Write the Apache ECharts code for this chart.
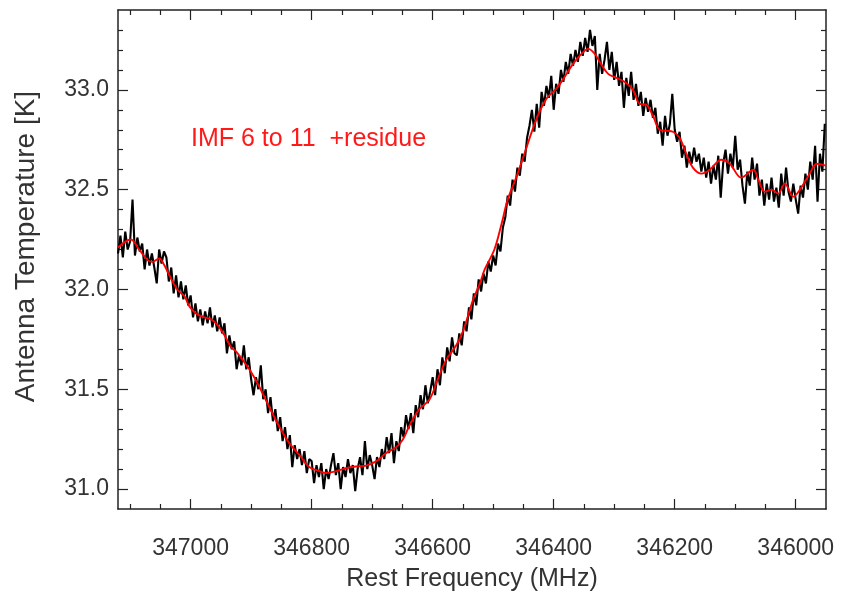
<!DOCTYPE html>
<html>
<head>
<meta charset="utf-8">
<script src="https://cdn.jsdelivr.net/npm/echarts@6/dist/echarts.min.js"></script>
<style>html,body{margin:0;padding:0;background:#fff;}#c{width:841px;height:601px;}</style>
</head>
<body>
<div id="c"></div>
<script>
// Axis ticks
const xMajorTicks = [347000, 346800, 346600, 346400, 346200, 346000];
const xMinorTicks = [347100, 347050, 346950, 346900, 346850, 346750, 346700, 346650, 346550, 346500, 346450, 346350, 346300, 346250, 346150, 346100, 346050];
const yMajorTicks = [31.0, 31.5, 32.0, 32.5, 33.0];
const yMinorTicks = [31.1, 31.2, 31.3, 31.4, 31.6, 31.7, 31.8, 31.9, 32.1, 32.2, 32.3, 32.4, 32.6, 32.7, 32.8, 32.9, 33.1, 33.2, 33.3];

// Observed spectrum (channel grid: start frequency and step in MHz)
const specStart = 347120;
const specStep = -4;
const specTemp = [
32.18, 32.27, 32.16, 32.29, 32.20, 32.24, 32.45, 32.17, 32.26, 32.19,
32.23, 32.10, 32.20, 32.12, 32.18, 32.11, 32.03, 32.20, 32.13, 32.19,
32.16, 32.04, 32.11, 31.98, 32.07, 31.96, 32.04, 31.95, 32.02, 31.92,
31.97, 31.86, 31.93, 31.84, 31.90, 31.82, 31.89, 31.83, 31.91, 31.81,
31.87, 31.79, 31.86, 31.78, 31.83, 31.68, 31.77, 31.70, 31.74, 31.60,
31.67, 31.62, 31.72, 31.60, 31.66, 31.55, 31.47, 31.56, 31.50, 31.62,
31.45, 31.50, 31.38, 31.46, 31.34, 31.40, 31.29, 31.36, 31.24, 31.31,
31.20, 31.27, 31.11, 31.22, 31.15, 31.20, 31.12, 31.19, 31.08, 31.15,
31.14, 31.03, 31.12, 31.06, 31.13, 31.00, 31.10, 31.05, 31.12, 31.18,
31.07, 31.13, 31.00, 31.11, 31.06, 31.15, 31.08, 31.12, 30.99, 31.10,
31.16, 31.07, 31.24, 31.10, 31.17, 31.12, 31.05, 31.16, 31.11, 31.20,
31.15, 31.26, 31.18, 31.28, 31.13, 31.24, 31.19, 31.31, 31.26, 31.37,
31.30, 31.38, 31.28, 31.42, 31.36, 31.47, 31.40, 31.52, 31.43, 31.49,
31.56, 31.47, 31.60, 31.52, 31.66, 31.58, 31.71, 31.64, 31.76, 31.68,
31.67, 31.78, 31.72, 31.84, 31.79, 31.91, 31.85, 31.98, 31.92, 32.05,
31.99, 32.08, 32.03, 32.14, 32.09, 32.17, 32.12, 32.23, 32.19, 32.31,
32.36, 32.47, 32.42, 32.55, 32.49, 32.61, 32.57, 32.68, 32.64, 32.76,
32.82, 32.90, 32.79, 32.93, 32.81, 32.99, 32.92, 33.02, 32.96, 33.07,
32.90, 33.03, 32.98, 33.10, 33.04, 33.14, 33.08, 33.18, 33.12, 33.20,
33.14, 33.24, 33.17, 33.26, 33.19, 33.30, 33.22, 33.27, 33.00, 33.18,
33.08, 33.15, 33.24, 33.10, 33.19, 33.05, 33.14, 33.02, 33.09, 32.91,
33.06, 32.97, 33.09, 32.95, 33.03, 32.92, 32.99, 32.87, 32.96, 32.89,
32.95, 32.86, 32.91, 32.78, 32.84, 32.72, 32.87, 32.77, 32.83, 32.98,
32.80, 32.74, 32.79, 32.66, 32.72, 32.61, 32.69, 32.63, 32.71, 32.64,
32.68, 32.59, 32.66, 32.56, 32.64, 32.53, 32.62, 32.55, 32.67, 32.46,
32.63, 32.70, 32.58, 32.68, 32.61, 32.77, 32.60, 32.65, 32.52, 32.43,
32.59, 32.52, 32.66, 32.55, 32.63, 32.47, 32.55, 32.42, 32.53, 32.45,
32.56, 32.44, 32.51, 32.41, 32.58, 32.47, 32.61, 32.49, 32.44, 32.53,
32.45, 32.38, 32.52, 32.46, 32.58, 32.50, 32.64, 32.55, 32.72, 32.44,
32.68, 32.59, 32.83
];

// Smooth reconstruction: IMF 6 to 11 + residue
const fitFreq = [347120, 347099, 347085, 347071, 347063, 347052, 347045, 347035, 347022, 347010,
347002, 346991, 346980, 346966, 346955, 346944, 346933, 346925, 346903, 346886,
346870, 346853, 346837, 346820, 346804, 346787, 346776, 346759, 346743, 346726,
346710, 346693, 346677, 346660, 346649, 346638, 346622, 346605, 346589, 346577,
346561, 346550, 346533, 346522, 346514, 346498, 346486, 346476, 346462, 346445,
346429, 346412, 346396, 346385, 346368, 346354, 346343, 346332, 346324, 346310,
346296, 346283, 346269, 346258, 346247, 346236, 346225, 346214, 346203, 346192,
346181, 346170, 346156, 346142, 346123, 346109, 346090, 346070, 346062, 346051,
346040, 346029, 346018, 346004, 345993, 345977, 345965, 345950];
const fitTemp = [32.21, 32.25, 32.20, 32.147, 32.138, 32.155, 32.13, 32.07, 32.0, 31.965,
31.915, 31.88, 31.863, 31.85, 31.82, 31.77, 31.71, 31.69, 31.60, 31.51,
31.41, 31.31, 31.23, 31.17, 31.11, 31.09, 31.08, 31.09, 31.105, 31.113,
31.117, 31.14, 31.18, 31.21, 31.25, 31.32, 31.40, 31.45, 31.57, 31.65,
31.72, 31.79, 31.95, 32.03, 32.10, 32.20, 32.33, 32.45, 32.56, 32.71,
32.85, 32.955, 33.005, 33.05, 33.13, 33.18, 33.205, 33.18, 33.14, 33.08,
33.06, 33.04, 33.0, 32.93, 32.925, 32.87, 32.80, 32.795, 32.79, 32.76,
32.68, 32.61, 32.58, 32.60, 32.65, 32.63, 32.56, 32.60, 32.55, 32.49,
32.50, 32.48, 32.53, 32.465, 32.50, 32.58, 32.63, 32.62];

const xLabelText = 'Rest Frequency (MHz)';
const yLabelText = 'Antenna Temperature [K]';
const noteText = 'IMF 6 to 11  +residue';

const FONT = '"Liberation Sans", Arial, Helvetica, sans-serif';
const AX = '#222';
const X_MIN = 345950, X_MAX = 347120, Y_MIN = 30.9, Y_MAX = 33.4;

const specData = specTemp.map((v, i) => [specStart + specStep * i, v]);
const fitData = fitTemp.map((v, i) => [fitFreq[i], v]);

function xAxisDef(pos, ticks, len, showLine, showLabel, extra) {
  return Object.assign({
    type: 'value', position: pos, min: X_MIN, max: X_MAX, inverse: true,
    axisLine: { show: showLine, onZero: false, lineStyle: { color: AX, width: 1.5 } },
    axisTick: { show: true, inside: true, length: len, customValues: ticks, lineStyle: { color: AX, width: 1.2 } },
    axisLabel: { show: showLabel, customValues: ticks, formatter: v => String(v), margin: 28,
      fontFamily: FONT, fontSize: 23, color: '#333' },
    splitLine: { show: false }
  }, extra || {});
}
function yAxisDef(pos, ticks, len, showLine, showLabel, extra) {
  return Object.assign({
    type: 'value', position: pos, min: Y_MIN, max: Y_MAX,
    axisLine: { show: showLine, onZero: false, lineStyle: { color: AX, width: 1.5 } },
    axisTick: { show: true, inside: true, length: len, customValues: ticks, lineStyle: { color: AX, width: 1.2 } },
    axisLabel: { show: showLabel, customValues: ticks, formatter: v => v.toFixed(1), margin: 9,
      fontFamily: FONT, fontSize: 23, color: '#333' },
    splitLine: { show: false }
  }, extra || {});
}

const chart = echarts.init(document.getElementById('c'), null, { renderer: 'canvas' });
chart.setOption({
  animation: false,
  backgroundColor: '#fff',
  grid: { left: 118, right: 15, top: 10, bottom: 92, containLabel: false },
  xAxis: [
    xAxisDef('bottom', xMajorTicks, 10, true, true, {
      name: xLabelText, nameLocation: 'middle', nameGap: 58,
      nameTextStyle: { fontFamily: FONT, fontSize: 25, color: '#333' }
    }),
    xAxisDef('bottom', xMinorTicks, 5, false, false),
    xAxisDef('top', xMajorTicks, 10, true, false),
    xAxisDef('top', xMinorTicks, 5, false, false)
  ],
  yAxis: [
    yAxisDef('left', yMajorTicks, 10, true, true, {
      name: yLabelText, nameLocation: 'middle', nameGap: 78,
      nameTextStyle: { fontFamily: FONT, fontSize: 28, color: '#333', padding: [0, 0, 0, 26] }
    }),
    yAxisDef('left', yMinorTicks, 5, false, false),
    yAxisDef('right', yMajorTicks, 10, true, false),
    yAxisDef('right', yMinorTicks, 5, false, false)
  ],
  graphic: [{
    type: 'text', left: 191, top: 127, z: 100,
    style: { text: noteText, fill: '#ff1a1a', font: '25px ' + FONT }
  }],
  series: [
    { type: 'line', name: 'spectrum', data: specData, xAxisIndex: 0, yAxisIndex: 0,
      showSymbol: false, symbol: 'none', lineStyle: { color: '#000', width: 2.1 }, z: 2 },
    { type: 'line', name: 'fit', data: fitData, xAxisIndex: 0, yAxisIndex: 0,
      showSymbol: false, symbol: 'none', smooth: 0.35, lineStyle: { color: '#ff0000', width: 1.9 }, z: 3 }
  ]
});
</script>
</body>
</html>
